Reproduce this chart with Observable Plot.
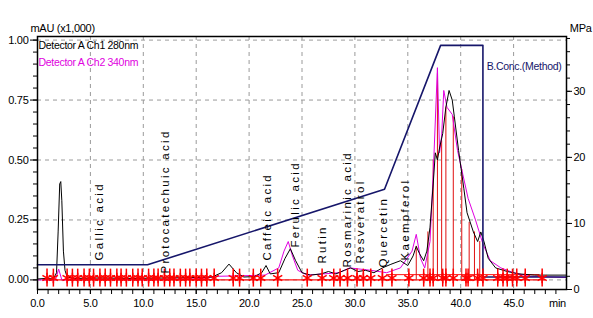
<!DOCTYPE html>
<html><head><meta charset="utf-8">
<script src="https://cdn.jsdelivr.net/npm/d3@7"></script>
<script src="https://cdn.jsdelivr.net/npm/@observablehq/plot@0.6"></script>
<style>
body{margin:0;background:#fff}
svg text{letter-spacing:-0.3px}
svg text.compound{letter-spacing:2.3px}
</style></head><body><div id="chart"></div>
<script>
// Detector A Ch1 280nm (black) — time (min), absorbance (mAU x1,000)
const ch1Time = [0,0.8,1.5,1.8,1.95,2.1,2.2,2.3,2.45,2.6,2.8,3.5,6,9,12,15,16.5,17.4,18.1,18.8,19.5,20.5,21.2,21.6,22,22.8,23.4,23.9,24.4,25,25.8,26.8,27.5,28.2,29,29.6,30.3,31,31.8,32.6,33.4,34.3,35,35.5,35.8,36.1,36.5,36.8,37.1,37.4,37.6,37.8,38,38.3,38.6,38.9,39.2,39.4,39.8,40.3,40.6,41.2,41.6,41.9,42.2,42.6,43.3,44.4,45.5,47,50];
const ch1Abs  = [0.004,0.006,0.004,0.03,0.2,0.4,0.41,0.33,0.12,0.04,0.012,0.006,0.008,0.006,0.008,0.01,0.012,0.03,0.066,0.03,0.012,0.014,0.03,0.06,0.025,0.03,0.09,0.13,0.08,0.03,0.02,0.025,0.035,0.025,0.04,0.05,0.035,0.04,0.03,0.05,0.065,0.08,0.06,0.1,0.14,0.11,0.08,0.12,0.22,0.4,0.53,0.5,0.55,0.61,0.72,0.79,0.75,0.68,0.54,0.38,0.28,0.2,0.16,0.2,0.16,0.09,0.05,0.035,0.025,0.02,0.02];

// Detector A Ch2 340nm (magenta)
const ch2Time = [0,1.7,2.0,2.3,6,10,15,17,20,21.5,22.8,23.3,23.7,24.1,24.6,25.5,27,28.5,29.5,30.5,31.5,33,34.3,35.4,35.8,36.2,36.6,37.1,37.4,37.8,38,38.2,38.4,38.7,39.2,39.7,40.2,40.7,41.4,42.1,42.8,43.8,45,46.5,50];
const ch2Abs  = [0,0,0.045,0,0.002,0,0.004,0.015,0.018,0.02,0.05,0.12,0.16,0.1,0.04,0.02,0.025,0.03,0.05,0.045,0.04,0.03,0.05,0.12,0.19,0.09,0.05,0.16,0.44,0.885,0.53,0.6,0.79,0.72,0.69,0.54,0.44,0.34,0.25,0.15,0.08,0.05,0.03,0.015,0.01];

// B.Conc (Method) gradient trace, in left-axis units
const bConcTime  = [0,10.4,32.8,38.1,42.1,42.1,50];
const bConcLevel = [0.063,0.063,0.378,0.978,0.978,0.012,0.012];

// peak start/end markers (min)
const markerTime = [0.9,1.5,2.8,3.3,3.8,4.4,4.9,5.3,5.9,6.4,6.9,7.5,7.9,8.4,9.0,9.5,9.9,10.5,11.0,11.4,12.0,12.5,12.9,13.5,14.0,14.4,15.0,15.5,16.0,16.7,18.5,19.1,20.4,21.1,22.7,25.5,26.9,28.0,28.6,29.3,30.2,30.8,31.5,32.6,33.5,35.1,36.5,37.1,37.4,38.3,38.6,39.3,40.5,40.7,41.6,42.1,43.5,44.0,44.4,44.9,45.3,46.1,47.7];

// peak drop lines
const dropTime   = [35.8,36.9,37.4,37.8,38.2,38.6,39.3,40.1,40.8,41.3,41.8];
const dropHeight = [0.14,0.2,0.5,0.86,0.58,0.72,0.68,0.46,0.24,0.2,0.16];

// compound labels
const compoundName = ["Gallic acid","Protocatechuic acid","Caffeic acid","Ferulic acid","Rutin","Rosmarinic acid","Resveratrol","Quercetin","Kaempferol"];
const compoundTime = [5.8,12.1,21.7,24.4,26.9,29.3,30.5,32.7,34.8];
const compoundBase = [0.081,0.027,0.081,0.135,0.068,0.052,0.068,0.052,0.081];

// axes
const xMajor = [0,5,10,15,20,25,30,35,40,45];
const xMinor = d3.range(0,50,1);
const yMajor = [0,0.25,0.5,0.75,1];
const yMinor = d3.range(0,1.001,0.05);
const mpaMajor = [0,10,20,30];
const mpaMinor = d3.range(0,39,2);
const mpaMax = 38.3;
const toY = v => -0.04 + v * (1.055 / mpaMax);

const ch1 = ch1Time.map((t,i)=>({t, v: ch1Abs[i]}));
const ch2 = ch2Time.map((t,i)=>({t, v: ch2Abs[i]}));
const bconc = bConcTime.map((t,i)=>({t, v: bConcLevel[i]}));
const markers = markerTime.map(t=>({t}));
const drops = dropTime.map((t,i)=>({t, v: dropHeight[i]}));
const compounds = compoundName.map((n,i)=>({n, t: compoundTime[i], v: compoundBase[i]}));

const font = "'Liberation Sans',Arial,sans-serif";

const chart = Plot.plot({
  width: 593, height: 318,
  marginLeft: 37, marginRight: 27, marginTop: 36, marginBottom: 29,
  x: {domain: [0, 50]},
  y: {domain: [-0.04, 1.015]},
  style: {fontFamily: font, fontSize: "11px", background: "white", color: "black"},
  marks: [
    Plot.gridY(yMajor, {stroke: "#9a9a9a", strokeOpacity: 1, strokeDasharray: "4,4"}),
    Plot.gridX([5,10,15,20,25,30,35,40,45], {stroke: "#9a9a9a", strokeOpacity: 1, strokeDasharray: "4,4"}),
    Plot.ruleY([0], {x1: 0.5, x2: 48, stroke: "#ff1010", strokeWidth: 1.2}),
    Plot.ruleY([0.022], {x1: 33, x2: 47.5, stroke: "#ff1010", strokeWidth: 1}),
    Plot.ruleX(drops, {x: "t", y1: 0, y2: "v", stroke: "#e01010", strokeWidth: 1}),
    Plot.line(ch2, {x: "t", y: "v", stroke: "#e000e0", strokeWidth: 1}),
    Plot.line(ch1, {x: "t", y: "v", stroke: "black", strokeWidth: 1}),
    Plot.line(bconc, {x: "t", y: "v", stroke: "#16166a", strokeWidth: 1.6}),
    Plot.ruleX(markers, {x: "t", y1: -0.03, y2: 0.045, stroke: "#ff0000", strokeWidth: 1.5}),
    Plot.dot(markers, {x: "t", y: 0.008, symbol: "asterisk", r: 5, stroke: "#ff0000", strokeWidth: 1.5}),
    Plot.text(compounds, {x: "t", y: "v", text: "n", rotate: -90, textAnchor: "start", fontSize: 11.5, fill: "black"}),
    Plot.frame({stroke: "black", strokeWidth: 1.5}),
    Plot.axisY(yMajor, {anchor: "left", tickSize: 7, tickPadding: 2, tickFormat: d => d.toFixed(2), label: null, fontSize: 11}),
    Plot.axisY(yMinor, {anchor: "left", tickSize: 4, tickFormat: () => "", label: null}),
    Plot.axisY(mpaMajor.map(toY), {anchor: "right", tickSize: 5, tickPadding: 2, tickFormat: d => String(Math.round((d + 0.04) * mpaMax / 1.055)), label: null, fontSize: 11}),
    Plot.axisY(mpaMinor.map(toY), {anchor: "right", tickSize: 3, tickFormat: () => "", label: null}),
    Plot.axisX(xMajor, {tickSize: 5, tickPadding: 5, tickFormat: d => d.toFixed(1), label: null, fontSize: 11}),
    Plot.axisX(xMinor, {tickSize: 5, tickFormat: () => "", label: null}),
    Plot.axisX([50], {tickSize: 0, tickPadding: 10, tickFormat: () => "min", label: null, dx: -9, fontSize: 11}),
    Plot.text(["mAU (x1,000)"], {frameAnchor: "top-left", dx: -7, dy: -12, textAnchor: "start", fontSize: 11}),
    Plot.text(["MPa"], {frameAnchor: "top-right", dx: 25, dy: -12, textAnchor: "end", fontSize: 11}),
    Plot.text(["Detector A Ch1 280nm"], {frameAnchor: "top-left", dx: 1, dy: 5, textAnchor: "start", fontSize: 10.5, fill: "black"}),
    Plot.text(["Detector A Ch2 340nm"], {frameAnchor: "top-left", dx: 1, dy: 22, textAnchor: "start", fontSize: 10.5, fill: "#e000e0"}),
    Plot.text(["B.Conc.(Method)"], {frameAnchor: "top-right", dx: -5, dy: 26, textAnchor: "end", fontSize: 10.5, fill: "#16166a"})
  ]
});
chart.querySelectorAll("text").forEach(el => {
  if (compoundName.includes(el.textContent)) el.classList.add("compound");
});
document.getElementById("chart").appendChild(chart);
</script>
</body></html>
